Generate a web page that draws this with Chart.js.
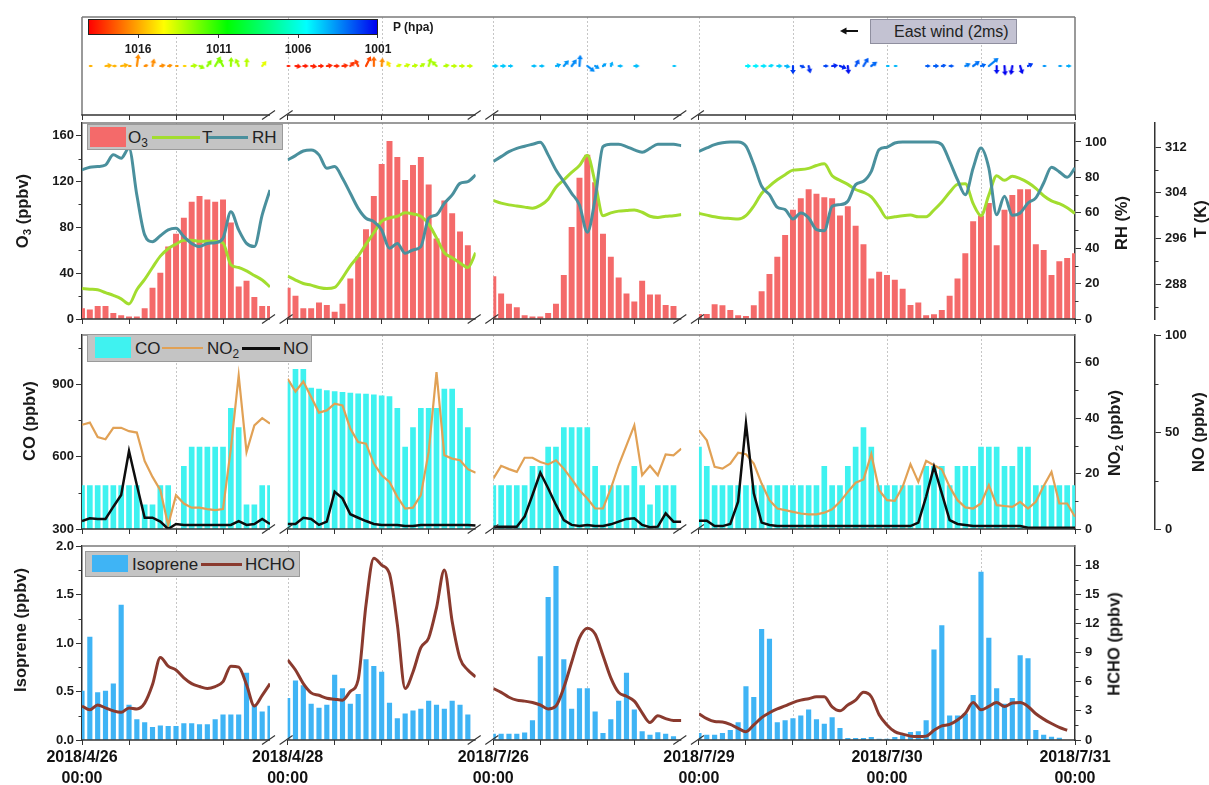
<!DOCTYPE html>
<html>
<head>
<meta charset="utf-8">
<title>O3, precursors and meteorology</title>
<script src="https://cdn.jsdelivr.net/npm/chart.js@4.4.1/dist/chart.umd.min.js"></script>
<style>
  html, body { margin:0; padding:0; background:#fff; }
  #wrap { position:relative; width:1209px; height:785px; overflow:hidden; font-family:"Liberation Sans", Arial, sans-serif; color:#1a1a1a; }
  #wrap canvas { position:absolute; left:0; top:0; }
  .ytitle { position:absolute; font-weight:bold; font-size:16.5px; white-space:nowrap; transform:translate(-50%,-50%) rotate(-90deg); color:#1a1a1a; }
  sub { font-size:70%; vertical-align:baseline; position:relative; top:0.3em; }
  .leg { position:absolute; background:#c4c4c4; border:1px solid #9a9a9a; box-sizing:border-box; }
  .leg div { position:absolute; }
  .leg .tx { font-size:17px; line-height:1; top:50%; transform:translateY(-50%); white-space:nowrap; color:#222; }
  .cbl { position:absolute; font-weight:bold; font-size:12px; transform:translate(-50%,-50%); color:#1a1a1a; }
  .cbt { position:absolute; width:1px; height:3px; background:#333; top:35px; }
</style>
</head>
<body>
<div id="wrap">
  <canvas id="cWind" width="1209" height="785"></canvas>
  <canvas id="cO3" width="1209" height="785"></canvas>
  <canvas id="cCO" width="1209" height="785"></canvas>
  <canvas id="cIso" width="1209" height="785"></canvas>

  <!-- pressure colour bar and wind key -->
  <div id="cbar" style="position:absolute;left:88px;top:19px;width:290px;height:16px;border:1.5px solid #222;box-sizing:border-box;"></div>
  <div class="cbt" style="left:138px"></div><div class="cbt" style="left:218px"></div><div class="cbt" style="left:298px"></div><div class="cbt" style="left:377px"></div>
  <div class="cbl" style="left:138px;top:49px">1016</div>
  <div class="cbl" style="left:219px;top:49px">1011</div>
  <div class="cbl" style="left:298px;top:49px">1006</div>
  <div class="cbl" style="left:378px;top:49px">1001</div>
  <div style="position:absolute;left:393px;top:20px;font-weight:bold;font-size:12px;">P (hpa)</div>
  <svg style="position:absolute;left:839px;top:26px" width="20" height="10"><line x1="19" y1="5" x2="6" y2="5" stroke="#111" stroke-width="2"/><polygon points="1,5 7.5,1.5 7.5,8.5" fill="#111"/></svg>
  <div style="position:absolute;left:870px;top:19px;width:147px;height:25px;background:#c3c2d2;border:1px solid #8f8f9f;box-sizing:border-box;font-size:16px;line-height:23px;padding-left:23px;white-space:nowrap;color:#222;">East wind (2ms)</div>

  <!-- legends -->
  <div class="leg" style="left:87px;top:124px;width:196px;height:26px;">
    <div style="left:2px;top:2px;width:36px;height:20px;background:#f46a6a"></div>
    <div class="tx" style="left:40px">O<sub>3</sub></div>
    <div style="left:64px;top:10.5px;width:48px;height:3px;background:#a2dd2f"></div>
    <div class="tx" style="left:114px">T</div>
    <div style="left:120px;top:10.5px;width:40px;height:3px;background:#4a909d"></div>
    <div class="tx" style="left:164px">RH</div>
  </div>
  <div class="leg" style="left:87px;top:334px;width:225px;height:28px;">
    <div style="left:7px;top:2px;width:36px;height:21px;background:#3ff2f0"></div>
    <div class="tx" style="left:47px">CO</div>
    <div style="left:74px;top:12px;width:41px;height:2px;background:#e1a155"></div>
    <div class="tx" style="left:119px">NO<sub>2</sub></div>
    <div style="left:154px;top:11.5px;width:38px;height:3px;background:#0d0d0d"></div>
    <div class="tx" style="left:195px">NO</div>
  </div>
  <div class="leg" style="left:85px;top:551px;width:215px;height:26px;">
    <div style="left:6px;top:3px;width:36px;height:17px;background:#3fb4f5"></div>
    <div class="tx" style="left:46px">Isoprene</div>
    <div style="left:115px;top:10.5px;width:41px;height:3px;background:#8a3a2e"></div>
    <div class="tx" style="left:159px">HCHO</div>
  </div>

  <!-- axis titles -->
  <div class="ytitle" style="left:22px;top:211px">O<sub>3</sub> (ppbv)</div>
  <div class="ytitle" style="left:29px;top:421px">CO (ppbv)</div>
  <div class="ytitle" style="left:20px;top:630px">Isoprene (ppbv)</div>
  <div class="ytitle" style="left:1121px;top:223px">RH (%)</div>
  <div class="ytitle" style="left:1200px;top:219px">T (K)</div>
  <div class="ytitle" style="left:1114px;top:433px">NO<sub>2</sub> (ppbv)</div>
  <div class="ytitle" style="left:1198px;top:432px">NO (ppbv)</div>
  <div class="ytitle" style="left:1114px;top:644px">HCHO (ppbv)</div>
</div>

<script>
// ---------- broken hour axis: four observation windows ----------
const SEG_START = [0, 26.25, 52.5, 78.75];   // axis hour where each window begins
const SEG_HOURS = [24, 24, 24, 48];           // window length (h)
const X_MAX = 126.75;
const X_TICKS = [0, 6, 12, 18, 26.25, 32.25, 38.25, 44.25, 52.5, 58.5, 64.5, 70.5,
                 78.75, 84.75, 90.75, 96.75, 102.75, 108.75, 114.75, 120.75, 126.75];
const X_GRID = [12, 26.25, 38.25, 52.5, 64.5, 78.75, 90.75, 102.75, 114.75];
const DATE_TICKS = [0, 26.25, 52.5, 78.75, 102.75, 126.75];
const DATE_LABELS = [['2018/4/26', '00:00'], ['2018/4/28', '00:00'], ['2018/7/26', '00:00'],
                     ['2018/7/29', '00:00'], ['2018/7/30', '00:00'], ['2018/7/31', '00:00']];

// ---------- hourly observations, one array per window ----------
const O3 = [
  [9, 8, 11, 11, 5, 3, 2, 2, 9, 27, 40, 63, 74, 88, 102, 107, 104, 102, 104, 84, 28, 33, 19, 11, 11],
  [27, 20, 9, 9, 14, 12, 6, 13, 35, 54, 78, 107, 135, 155, 141, 121, 134, 141, 117, 70, 103, 92, 76, 64],
  [37, 22, 13, 10, 3, 2, 2, 5, 13, 38, 80, 123, 143, 119, 74, 54, 36, 22, 15, 33, 21, 21, 12, 11],
  [4, 4, 12.5, 11.7, 7.6, 2.9, 2.3, 11.7, 24, 39, 54, 73, 95, 105, 113, 109, 106, 105, 90, 98,
   81, 65, 35, 41, 38, 34, 26, 12, 14, 3, 3.8, 7.6, 20, 35, 57, 85, 90, 101, 64, 95,
   108, 113, 113, 65, 60, 38, 50, 53, 57]
];
const TEMP = [
  [287.2, 287.1, 287.0, 286.5, 286.0, 285.4, 284.5, 287.0, 288.8, 290.9, 292.9, 294.2, 295.0, 295.7, 295.7, 295.5, 295.5, 295.5, 295.2, 291.4, 290.9, 290.3, 289.5, 288.7, 287.5],
  [289.4, 288.7, 288.1, 287.8, 287.4, 287.2, 287.4, 289.1, 291.2, 292.9, 295.0, 297.0, 299.0, 299.6, 299.9, 300.5, 300.3, 299.9, 298.5, 296.1, 293.5, 292.6, 291.7, 290.9, 293.5],
  [302.7, 302.2, 301.9, 301.7, 301.5, 301.3, 301.8, 302.9, 305.0, 306.3, 307.6, 308.8, 310.6, 305.8, 300.0, 300.5, 300.8, 300.9, 301.0, 300.6, 299.9, 299.7, 299.9, 300.0, 300.2],
  [300.4, 300.1, 299.8, 299.6, 299.5, 299.4, 300.0, 301.7, 303.9, 305.2, 306.3, 307.2, 308.0, 308.1, 308.3, 308.8, 309.1, 307.0, 306.2, 305.5, 304.6, 304.1, 303.3, 301.5,
   299.6, 299.8, 300.0, 300.1, 299.8, 299.8, 301.0, 302.4, 304.1, 305.5, 305.6, 302.1, 300.0, 303.6, 307.0, 306.2, 306.9, 306.5, 305.8, 304.8, 303.5, 302.6, 302.1, 301.4, 300.4]
];
const RH = [
  [84.2, 85.7, 86.1, 87.0, 92.7, 90.8, 96.4, 70.0, 47.5, 43.7, 47.0, 50.3, 51.2, 46.5, 42.7, 40.9, 42.7, 43.1, 45.6, 60.6, 50.3, 42.7, 40.9, 58.8, 72.9],
  [89.8, 92.3, 94.9, 95.5, 92.7, 85.1, 86.1, 79.5, 71.0, 62.5, 56.9, 55.0, 50.3, 39.9, 42.7, 37.1, 39.0, 40.9, 56.9, 58.8, 65.3, 70.1, 76.6, 77.6, 81.4],
  [88.9, 91.7, 94.5, 96.4, 97.6, 98.7, 99.8, 92.7, 84.2, 77.6, 71.0, 64.4, 49.0, 68.0, 97.4, 98.7, 98.7, 97.4, 95.5, 94.2, 96.4, 98.7, 98.7, 98.7, 97.9],
  [94.7, 96.6, 98.5, 99.6, 100, 100, 97.6, 87.2, 75.0, 70.2, 63.1, 61.8, 56.5, 59.9, 57.1, 50.5, 49.9, 63.7, 64.6, 66.5, 75.9, 77.8, 83.4, 95.7,
   97.0, 99.4, 100, 100, 100, 100, 100, 98.5, 89.1, 78.7, 70.2, 85.3, 96.6, 85.3, 58.9, 69.3, 58.6, 59.9, 65.5, 68.4, 76.8, 85.7, 83.1, 80.0, 85.3]
];
const CO = [
  [480, 480, 480, 480, 480, 480, 480, 480, 400, 400, 480, 480, 300, 560, 640, 640, 640, 640, 640, 800, 720, 400, 400, 480, 480],
  [911, 962, 962, 884, 880, 874, 870, 866, 863, 860, 859, 856, 852, 849, 800, 640, 720, 800, 800, 800, 880, 880, 800, 720],
  [480, 480, 480, 480, 480, 560, 560, 640, 640, 720, 720, 720, 720, 560, 480, 480, 480, 480, 560, 480, 400, 480, 480, 480],
  [640, 560, 480, 480, 480, 480, 480, 480, 480, 480, 480, 480, 480, 480, 480, 480, 560, 480, 480, 560,
   640, 720, 640, 480, 480, 480, 480, 480, 480, 560, 560, 560, 480, 560, 560, 560, 640, 640, 640, 560,
   560, 640, 640, 480, 480, 480, 480, 480, 480]
];
const NO2 = [
  [37.6, 38.4, 33.2, 32.4, 36.5, 36.5, 35.3, 34.8, 24.5, 18.8, 14.0, 1.4, 12.2, 9.2, 7.7, 7.7, 7.2, 6.8, 7.2, 29.0, 55.4, 27.8, 37.4, 40.0, 38.0],
  [54.2, 49.6, 53.2, 47.6, 42.0, 42.8, 45.2, 44.6, 36.2, 31.4, 30.8, 23.6, 19.4, 17.0, 11.6, 7.4, 7.7, 12.2, 27.8, 56.6, 26.6, 25.4, 24.8, 21.6, 20.3],
  [18.2, 22.8, 21.6, 20.6, 25.7, 25.7, 24.2, 23.3, 24.8, 21.8, 18.0, 14.0, 11.0, 7.4, 7.4, 14.6, 23.0, 30.2, 37.4, 19.4, 22.8, 19.4, 26.9, 26.6, 29.0],
  [35.6, 32.0, 22.4, 21.8, 23.6, 27.5, 27.0, 23.6, 16.4, 10.4, 7.4, 6.8, 6.2, 5.6, 5.3, 5.3, 5.9, 7.1, 9.8, 13.4, 16.7, 17.9, 27.0, 14.0,
   10.4, 10.2, 15.2, 23.4, 17.0, 24.6, 23.0, 21.5, 15.2, 10.4, 7.8, 7.4, 9.2, 15.8, 8.6, 8.3, 8.0, 9.8, 7.4, 9.8, 15.5, 20.6, 9.2, 9.2, 4.4]
];
const NO = [
  [4.1, 5.5, 5.2, 5.2, 11.5, 17.5, 40.2, 22.7, 5.8, 5.8, 3.8, 0.0, 2.6, 2.1, 2.1, 2.1, 2.1, 2.1, 2.1, 2.1, 4.1, 2.1, 2.6, 5.2, 2.6],
  [2.6, 2.6, 5.8, 5.2, 2.1, 3.8, 19.2, 15.8, 7.6, 5.8, 4.1, 2.6, 2.1, 2.1, 2.1, 1.5, 1.5, 2.1, 2.1, 2.1, 2.1, 2.1, 2.1, 2.1, 1.8],
  [1.2, 1.2, 1.2, 1.2, 6.4, 17.5, 29.0, 21.0, 12.4, 4.6, 2.1, 1.5, 2.1, 1.5, 1.5, 2.4, 3.8, 5.2, 5.5, 2.1, 0.9, 1.2, 8.1, 3.8, 3.8],
  [4.3, 4.3, 1.5, 1.5, 2.6, 14.1, 54.5, 18.4, 3.3, 2.1, 1.5, 1.5, 1.5, 1.5, 1.5, 1.5, 1.5, 1.5, 1.5, 1.5, 1.5, 1.5, 1.5, 1.5,
   1.5, 1.5, 1.5, 1.5, 3.3, 16.7, 32.1, 18.4, 4.6, 2.6, 2.1, 1.5, 1.5, 1.5, 1.5, 1.5, 1.5, 1.5, 0.7, 0.7, 0.7, 0.7, 0.7, 0.7, 0.7]
];
const ISOPRENE = [
  [0.505, 1.06, 0.49, 0.505, 0.58, 1.39, 0.36, 0.21, 0.18, 0.13, 0.145, 0.14, 0.14, 0.17, 0.17, 0.16, 0.16, 0.21, 0.26, 0.26, 0.26, 0.69, 0.36, 0.29, 0.35],
  [0.43, 0.61, 0.56, 0.37, 0.33, 0.36, 0.67, 0.53, 0.37, 0.47, 0.83, 0.76, 0.70, 0.38, 0.22, 0.27, 0.30, 0.32, 0.40, 0.36, 0.32, 0.40, 0.36, 0.26],
  [0.06, 0.06, 0.06, 0.06, 0.075, 0.2, 0.86, 1.47, 1.79, 0.83, 0.32, 0.53, 0.53, 0.29, 0.07, 0.21, 0.40, 0.69, 0.31, 0.086, 0.05, 0.076, 0.06, 0.034],
  [0.07, 0.05, 0.05, 0.07, 0.1, 0.18, 0.55, 0.44, 1.14, 1.04, 0.18, 0.2, 0.22, 0.25, 0.31, 0.21, 0.165, 0.23, 0.12, 0.017, 0.017, 0.017, 0.027, 0.01,
   0.01, 0.027, 0.045, 0.08, 0.086, 0.2, 0.93, 1.18, 0.25, 0.25, 0.27, 0.46, 1.73, 1.05, 0.53, 0.37, 0.43, 0.87, 0.84, 0.1, 0.05, 0.03, 0.02]
];
const HCHO = [
  [3.5, 3.1, 3.6, 3.3, 3.0, 2.85, 3.3, 3.2, 3.8, 5.7, 8.5, 7.6, 7.2, 6.4, 5.8, 5.5, 5.3, 5.5, 6.0, 7.6, 7.5, 5.7, 3.5, 4.6, 5.8],
  [8.25, 7.2, 5.8, 4.85, 4.6, 4.3, 4.2, 4.1, 5.0, 6.2, 13.9, 18.7, 18.0, 17.1, 11.9, 5.3, 7.0, 9.5, 10.5, 13.6, 17.5, 12.2, 8.4, 7.2, 6.5],
  [5.3, 4.9, 4.4, 4.1, 4.0, 3.85, 3.6, 3.2, 3.5, 5.4, 8.0, 10.5, 11.5, 10.9, 8.7, 6.4, 4.9, 4.5, 4.0, 2.8, 1.8, 2.5, 2.2, 2.0, 2.0],
  [2.7, 2.2, 1.9, 1.85, 1.6, 1.2, 0.86, 1.55, 2.3, 2.8, 3.2, 3.5, 3.85, 4.1, 4.25, 4.45, 4.45, 3.4, 3.0, 3.6, 4.1, 4.9, 4.45, 2.6,
   1.55, 0.86, 0.6, 0.4, 0.35, 0.4, 1.0, 1.45, 1.6, 2.05, 2.75, 3.85, 3.1, 3.45, 3.85, 3.45, 3.8, 3.85, 3.45, 2.7, 2.15, 1.7, 1.3, 1.0]
];
// surface pressure (hPa) and wind components (m/s, u eastward, v northward)
const WIND_P = [
  [null, 1015.8, null, 1015.8, 1015.8, 1015.8, 1016.2, 1016.5, 1016.5, 1016.5, 1016.5, 1016.4, 1016.2, 1015.2, 1013.2, 1012.8, 1012.6, 1012.5, 1012.5, 1012.8, 1013.0, 1013.3, null, 1014.0],
  [1018.6, 1018.6, 1018.6, 1018.5, 1018.5, 1018.4, 1018.4, 1018.3, 1018.2, 1018.0, 1017.8, 1017.2, 1016.5, 1015.0, 1013.8, 1013.6, 1013.4, 1013.2, 1013.0, 1013.0, 1013.2, 1013.4, 1013.5, 1013.6],
  [1004.5, 1004.5, 1004.4, null, null, 1004.3, 1004.3, null, 1004.0, 1003.6, 1003.4, 1003.3, 1003.4, 1003.6, 1003.8, 1004.0, 1004.2, null, 1004.3, null, null, null, null, 1004.4],
  [null, null, null, null, null, null, 1005.2, 1005.2, 1005.0, 1004.8, 1004.6, 1004.2, 1002.0, 1002.2, 1001.8, null, 1002.2, 1001.6, 1001.6, 1001.3, 1002.4, 1002.6, 1002.8, null,
   1004.2, 1004.2, null, null, null, 1002.6, 1002.6, 1002.5, 1002.5, null, 1003.2, 1003.0, 1002.8, 1003.2, 1001.2, 1001.0, 1001.0, 1001.1, 1002.0, null, 1003.6, null, 1003.8, 1004.0]
];
const WIND_U = [
  [null, 0.3, null, 0.8, 0.4, 0.9, 0.3, 0.2, 0.4, 0.2, 0.6, 0.5, 0.3, 0.3, 0.7, 0.6, 0.5, 0.7, -0.5, 0.05, -0.4, 0.05, null, 0.5],
  [0.3, 0.7, 0.6, 0.7, 0.6, 0.7, 0.6, 0.7, 0.5, -0.4, 0.6, 0.0, 0.1, -0.3, 0.5, 0.6, 0.6, 0.5, 0.3, -0.6, 0.6, 0.6, 0.6, 0.6],
  [0.6, 0.6, 0.5, null, null, 0.5, 0.5, null, 0.6, 0.6, 0.6, 0.1, 0.9, 0.5, 0.4, 0.2, 0.5, null, 0.6, null, null, null, null, 0.3],
  [null, null, null, null, null, null, 0.6, 0.6, 0.6, 0.5, 0.6, 0.6, 0.0, 0.5, 0.2, null, 0.5, 0.7, 0.8, 0.1, 0.4, 0.6, 0.7, null,
   0.3, 0.3, null, null, null, 0.5, 0.6, 0.5, 0.5, null, 0.6, 0.8, 0.6, 1.2, 0.0, 0.1, -0.2, 0.3, 0.6, null, 0.3, null, 0.3, 0.5]
];
const WIND_V = [
  [null, 0.0, null, 0.1, 0.0, 0.15, 0.0, 1.5, 0.1, 0.9, 0.1, 0.1, 0.0, 0.0, 0.1, -0.3, 0.7, 1.2, 0.9, 1.1, 0.9, 1.0, null, 0.6],
  [0.0, -0.1, 0.0, -0.1, 0.0, 0.1, 0.0, 0.1, 0.5, 0.8, 1.2, 1.2, 1.0, 0.6, 0.2, 0.2, 0.1, 0.3, 1.0, 0.6, 0.1, 0.0, 0.0, 0.0],
  [0.0, 0.0, 0.0, null, null, 0.0, 0.0, null, 0.2, 0.7, 0.8, 1.4, -0.7, -0.3, 0.3, 0.5, 0.0, null, 0.0, null, null, null, null, 0.0],
  [null, null, null, null, null, null, 0.0, 0.0, 0.0, 0.1, 0.0, -0.1, -1.0, -0.2, -0.9, null, 0.0, 0.1, -0.3, -1.0, 0.8, 1.0, 0.5, null,
   0.0, 0.0, null, null, null, 0.0, 0.0, 0.1, 0.0, null, 0.3, 0.6, 0.2, 1.0, -1.0, -1.2, -1.1, -1.0, 0.3, null, 0.0, null, 0.0, 0.0]
];

// ---------- axis ticks ----------
const O3_TICKS = [0, 40, 80, 120, 160],       O3_MINOR = [20, 60, 100, 140];
const RH_TICKS = [0, 20, 40, 60, 80, 100],    RH_MINOR = [10, 30, 50, 70, 90];
const T_TICKS = [288, 296, 304, 312],         T_MINOR = [284, 292, 300, 308];
const CO_TICKS = [300, 600, 900],             CO_MINOR = [450, 750, 1050];
const NO2_TICKS = [0, 20, 40, 60],            NO2_MINOR = [10, 30, 50];
const NO_TICKS = [0, 50, 100],                NO_MINOR = [25, 75];
const ISO_TICKS = [0, 0.5, 1.0, 1.5, 2.0],    ISO_MINOR = [0.25, 0.75, 1.25, 1.75];
const HCHO_TICKS = [0, 3, 6, 9, 12, 15, 18],  HCHO_MINOR = [1.5, 4.5, 7.5, 10.5, 13.5, 16.5];

// ---------- colours ----------
const C = { o3: '#f46a6a', t: '#a2dd2f', rh: '#4a909d', co: '#3ff2f0', no2: '#e1a155', no: '#0d0d0d', iso: '#3fb4f5', hcho: '#8a3a2e' };
const P_HIGH = 1019.1, P_LOW = 1001;          // colour-bar limits (hPa)
const JET = [[0, [255, 0, 0]], [0.26, [255, 255, 0]], [0.48, [0, 255, 0]], [0.755, [0, 255, 255]], [1, [0, 0, 240]]];

function pressureColor(p) {
  const t = Math.min(1, Math.max(0, (P_HIGH - p) / (P_HIGH - P_LOW)));
  for (let i = 1; i < JET.length; i++) {
    if (t <= JET[i][0]) {
      const [t0, c0] = JET[i - 1], [t1, c1] = JET[i];
      const f = (t - t0) / (t1 - t0);
      return 'rgb(' + c0.map((c, k) => Math.round(c + (c1[k] - c) * f)).join(',') + ')';
    }
  }
  return 'rgb(0,0,240)';
}
document.getElementById('cbar').style.background =
  'linear-gradient(to right,' + JET.map(([t, c]) => `rgb(${c.join(',')}) ${t * 100}%`).join(',') + ')';

// ---------- helpers ----------
Chart.defaults.font.family = "'Liberation Sans', Arial, sans-serif";
Chart.defaults.color = '#1a1a1a';
const TICK_FONT = { size: 13, weight: 'bold' };

// hourly values of every window -> {x, y}; a null point separates windows for lines
function linePoints(segs) {
  const pts = [];
  segs.forEach((arr, s) => {
    arr.forEach((v, h) => pts.push({ x: SEG_START[s] + h, y: v }));
    if (s < segs.length - 1) pts.push({ x: SEG_START[s] + SEG_HOURS[s] + 1, y: null });
  });
  return pts;
}
function barPoints(segs) {
  const pts = [];
  segs.forEach((arr, s) => arr.forEach((v, h) => { if (v !== null) pts.push({ x: SEG_START[s] + h, y: v }); }));
  return pts;
}

function xScale(withLabels) {
  return {
    type: 'linear', min: 0, max: X_MAX, offset: false,
    afterBuildTicks: s => { s.ticks = X_TICKS.map(v => ({ value: v })); },
    afterFit: s => { s.height = withLabels ? 45 : 8; },
    ticks: {
      autoSkip: false, maxRotation: 0, minRotation: 0, padding: 2, color: '#111',
      font: { size: 16, weight: 'bold', lineHeight: 1.3 },
      callback: v => {
        if (!withLabels) return '';
        const i = DATE_TICKS.findIndex(d => Math.abs(d - v) < 1e-6);
        return i >= 0 ? DATE_LABELS[i] : '';
      }
    },
    grid: { drawOnChartArea: false, drawTicks: true, tickLength: 5, tickColor: '#333', offset: false },
    border: { display: false }
  };
}

function yScale(pos, min, max, ticks, width, fmt, weight) {
  return {
    position: pos, weight: weight || 0, min, max,
    afterBuildTicks: s => { s.ticks = ticks.map(v => ({ value: v })); },
    afterFit: s => { s.width = width; },
    ticks: { font: TICK_FONT, color: '#1a1a1a', padding: pos === 'left' ? 2 : 4, callback: fmt || (v => String(v)) },
    grid: { drawOnChartArea: false, drawTicks: true, tickLength: 6, tickColor: '#333', tickWidth: 1 },
    border: { display: true, color: '#333', width: 1.5 }
  };
}

// dotted day/noon lines, broken bottom axis with break marks, panel edge, minor ticks
function brokenFrame(cfg) {
  return {
    id: 'brokenFrame',
    beforeDatasetsDraw(chart) {
      const { ctx, chartArea: a, scales: { x } } = chart;
      ctx.save();
      ctx.strokeStyle = '#c6c6c6'; ctx.lineWidth = 1; ctx.setLineDash([2, 2]);
      X_GRID.forEach(v => {
        const px = Math.round(x.getPixelForValue(v)) + 0.5;
        ctx.beginPath(); ctx.moveTo(px, a.top); ctx.lineTo(px, a.bottom); ctx.stroke();
      });
      ctx.restore();
      if (cfg.clip) {
        ctx.save();
        ctx.beginPath();
        SEG_START.forEach((s, i) => {
          const l = x.getPixelForValue(s), r = x.getPixelForValue(s + SEG_HOURS[i]);
          ctx.rect(l, a.top, r - l, a.bottom - a.top);
        });
        ctx.clip();
        chart.$segClip = true;
      }
    },
    afterDatasetsDraw(chart) {
      const { ctx, chartArea: a, scales } = chart;
      if (chart.$segClip) { ctx.restore(); chart.$segClip = false; }
      const x = scales.x;
      ctx.save();
      ctx.strokeStyle = cfg.edge; ctx.lineWidth = 1.5;
      ctx.beginPath(); ctx.moveTo(a.left, a.top); ctx.lineTo(a.right, a.top); ctx.stroke();
      if (cfg.sides) {
        ctx.beginPath(); ctx.moveTo(a.left, a.top); ctx.lineTo(a.left, a.bottom);
        ctx.moveTo(a.right, a.top); ctx.lineTo(a.right, a.bottom); ctx.stroke();
      }
      ctx.strokeStyle = '#333'; ctx.lineWidth = 1.5;
      SEG_START.forEach((s, i) => {
        const l = x.getPixelForValue(s), r = x.getPixelForValue(s + SEG_HOURS[i]);
        ctx.beginPath(); ctx.moveTo(l - (i === 0 ? 0.75 : 0), a.bottom); ctx.lineTo(r + (i === 3 ? 0.75 : 0), a.bottom); ctx.stroke();
      });
      ctx.lineWidth = 1.1;
      for (let i = 0; i < SEG_START.length - 1; i++) {
        const e = x.getPixelForValue(SEG_START[i] + SEG_HOURS[i]) - 1.5;
        const b = x.getPixelForValue(SEG_START[i + 1]) - 1.5;
        [e, b].forEach(c => {
          ctx.beginPath(); ctx.moveTo(c - 6.5, a.bottom + 4.5); ctx.lineTo(c + 6.5, a.bottom - 4.5); ctx.stroke();
        });
      }
      ctx.lineWidth = 1; ctx.strokeStyle = '#333';
      Object.entries(cfg.minor || {}).forEach(([id, vals]) => {
        const s = scales[id];
        const left = s.position === 'left';
        const bx = left ? s.right : s.left;
        ctx.beginPath();
        vals.forEach(v => {
          const py = Math.round(s.getPixelForValue(v)) + 0.5;
          ctx.moveTo(bx, py); ctx.lineTo(bx + (left ? -3.5 : 3.5), py);
        });
        ctx.stroke();
      });
      ctx.restore();
    }
  };
}

const BASE = { responsive: false, animation: false, events: [],
               plugins: { legend: { display: false }, tooltip: { enabled: false } } };
const H = 785;

// ---------- wind vectors coloured by pressure ----------
const ARROW_PX_PER_MS = 7.5;
function arrowCanvas(u, v, color) {
  const dx = u * ARROW_PX_PER_MS, dy = -v * ARROW_PX_PER_MS;
  const len = Math.max(1.5, Math.hypot(dx, dy));
  const half = Math.ceil(len + 5);
  const c = document.createElement('canvas');
  c.width = c.height = half * 2;
  const g = c.getContext('2d');
  g.translate(half, half);
  g.rotate(Math.atan2(dy, dx));
  g.strokeStyle = g.fillStyle = color;
  g.lineWidth = 2.2; g.lineCap = 'round';
  const head = Math.min(3.6, len * 0.7);
  g.beginPath(); g.moveTo(0, 0); g.lineTo(Math.max(0, len - head * 0.6), 0); g.stroke();
  g.beginPath(); g.moveTo(len + 0.8, 0); g.lineTo(len - head, -head * 0.8); g.lineTo(len - head, head * 0.8); g.closePath(); g.fill();
  return c;
}
const windPts = [], windStyles = [];
WIND_P.forEach((arr, s) => arr.forEach((p, h) => {
  if (p === null) return;
  windPts.push({ x: SEG_START[s] + h, y: 0.5 });
  windStyles.push(arrowCanvas(WIND_U[s][h], WIND_V[s][h], pressureColor(p)));
}));

new Chart(document.getElementById('cWind'), {
  type: 'scatter',
  data: { datasets: [{ data: windPts, pointStyle: ctx => windStyles[ctx.dataIndex], pointRadius: 3, showLine: false }] },
  options: Object.assign({}, BASE, {
    layout: { padding: { left: 82, right: 134, top: 17, bottom: H - 115 - 8 } },
    scales: { x: xScale(false), y: { display: false, min: 0, max: 1 } }
  }),
  plugins: [brokenFrame({ clip: false, sides: true, edge: '#7a7a7a' })]
});

// ---------- O3, T, RH ----------
new Chart(document.getElementById('cO3'), {
  type: 'bar',
  data: { datasets: [
    { type: 'line', label: 'RH', data: linePoints(RH), yAxisID: 'yRH', borderColor: C.rh, borderWidth: 3, pointRadius: 0, cubicInterpolationMode: 'monotone', order: 1 },
    { type: 'line', label: 'T', data: linePoints(TEMP), yAxisID: 'yT', borderColor: C.t, borderWidth: 3, pointRadius: 0, cubicInterpolationMode: 'monotone', order: 2 },
    { type: 'bar', label: 'O3', data: barPoints(O3), yAxisID: 'yO3', backgroundColor: C.o3, barThickness: 5.3, order: 3 }
  ]},
  options: Object.assign({}, BASE, {
    layout: { padding: { left: 0, right: 0, top: 123, bottom: H - 319 - 8 } },
    scales: {
      x: xScale(false),
      yO3: yScale('left', 0, 171, O3_TICKS, 82),
      yRH: yScale('right', 0, 110.7, RH_TICKS, 80, null, 0),
      yT: yScale('right', 281.86, 316.27, T_TICKS, 54, null, 1)
    }
  }),
  plugins: [brokenFrame({ clip: true, edge: '#7a7a7a', minor: { yO3: O3_MINOR, yRH: RH_MINOR, yT: T_MINOR } })]
});

// ---------- CO, NO2, NO ----------
new Chart(document.getElementById('cCO'), {
  type: 'bar',
  data: { datasets: [
    { type: 'line', label: 'NO', data: linePoints(NO), yAxisID: 'yNO', borderColor: C.no, borderWidth: 2.5, pointRadius: 0, tension: 0, order: 1 },
    { type: 'line', label: 'NO2', data: linePoints(NO2), yAxisID: 'yNO2', borderColor: C.no2, borderWidth: 2.2, pointRadius: 0, tension: 0, order: 2 },
    { type: 'bar', label: 'CO', data: barPoints(CO), yAxisID: 'yCO', backgroundColor: C.co, barThickness: 5, order: 3 }
  ]},
  options: Object.assign({}, BASE, {
    layout: { padding: { left: 0, right: 0, top: 335, bottom: H - 529 - 8 } },
    scales: {
      x: xScale(false),
      yCO: yScale('left', 300, 1104, CO_TICKS, 82),
      yNO2: yScale('right', 0, 70, NO2_TICKS, 80, null, 0),
      yNO: yScale('right', 0, 100, NO_TICKS, 54, null, 1)
    }
  }),
  plugins: [brokenFrame({ clip: true, edge: '#7a7a7a', minor: { yCO: CO_MINOR, yNO2: NO2_MINOR, yNO: NO_MINOR } })]
});

// ---------- isoprene, HCHO ----------
new Chart(document.getElementById('cIso'), {
  type: 'bar',
  data: { datasets: [
    { type: 'line', label: 'HCHO', data: linePoints(HCHO), yAxisID: 'yHCHO', borderColor: C.hcho, borderWidth: 3, pointRadius: 0, cubicInterpolationMode: 'monotone', order: 1 },
    { type: 'bar', label: 'Isoprene', data: barPoints(ISOPRENE), yAxisID: 'yIso', backgroundColor: C.iso, barThickness: 4.5, order: 2 }
  ]},
  options: Object.assign({}, BASE, {
    layout: { padding: { left: 0, right: 0, top: 546, bottom: 0 } },
    scales: {
      x: xScale(true),
      yIso: yScale('left', 0, 2.0, ISO_TICKS, 82, v => v.toFixed(1)),
      yHCHO: yScale('right', 0, 19.96, HCHO_TICKS, 134, null, 0)
    }
  }),
  plugins: [brokenFrame({ clip: true, edge: '#7a7a7a', minor: { yIso: ISO_MINOR, yHCHO: HCHO_MINOR } })]
});
</script>
</body>
</html>
